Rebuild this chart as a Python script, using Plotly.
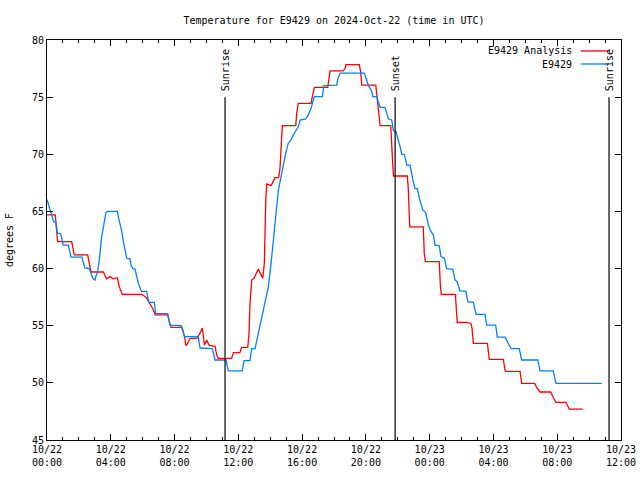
import pandas as pd
import plotly.graph_objects as go

BASE = pd.Timestamp("2024-10-22 00:00")

# E9429 Analysis (red) - hours since 2024-10-22 00:00 UTC, degrees F
analysis_hours = [0.00, 0.52, 0.56, 0.67, 1.55, 1.71, 2.55, 2.63, 2.70, 2.76, 3.53, 3.74, 3.95, 4.14, 4.41,
                  4.53, 4.72, 5.94, 6.21, 6.29, 6.38, 6.52, 6.67, 6.79, 7.57, 7.65, 7.78, 8.45, 8.55, 8.64,
                  8.70, 8.76, 8.97, 9.39, 9.60, 9.74, 9.80, 9.87, 10.02, 10.16, 10.54, 10.64, 10.74, 11.58,
                  11.69, 12.10, 12.21, 12.59, 12.67, 12.73, 12.84, 12.98, 13.25, 13.53, 13.63, 13.67, 13.72,
                  13.78, 14.05, 14.30, 14.53, 14.61, 14.68, 14.76, 15.60, 15.66, 15.76, 16.56, 16.64, 16.77,
                  17.61, 17.69, 17.75, 18.58, 18.69, 18.75, 19.59, 19.67, 19.74, 20.62, 20.68, 20.78, 20.89,
                  21.56, 21.62, 21.68, 21.73, 22.60, 22.66, 22.69, 22.75, 23.60, 23.66, 23.73, 24.60, 24.67,
                  24.73, 25.61, 25.67, 25.73, 26.32, 26.59, 26.66, 26.74, 27.62, 27.68, 27.74, 28.62, 28.68,
                  28.74, 29.67, 29.71, 29.77, 30.59, 30.71, 30.92, 31.59, 31.76, 31.92, 32.55, 32.66, 32.76,
                  33.60]
analysis_temp = [64.7, 64.7, 64.0, 62.35, 62.35, 61.2, 61.2, 60.5, 60.0, 59.7, 59.7, 59.1, 59.3, 59.1, 59.2,
                 58.4, 57.75, 57.75, 57.5, 57.3, 57.0, 56.75, 56.4, 55.95, 55.95, 55.5, 54.85, 54.85, 54.4, 54.0,
                 53.3, 53.3, 53.9, 53.9, 54.35, 54.8, 54.2, 53.3, 53.75, 53.3, 53.2, 52.45, 52.15, 52.15,
                 52.65, 52.65, 53.1, 53.1, 54.35, 56.95, 59.0, 59.15, 59.95, 59.15, 60.45, 63.4, 66.0,
                 67.4, 67.25, 67.95, 67.95, 68.75, 70.1, 72.5, 72.5, 73.6, 74.45, 74.45, 75.05, 75.85,
                 75.85, 76.65, 77.3, 77.3, 77.5, 77.85, 77.85, 77.2, 76.05, 76.05, 75.35, 74.15, 72.5,
                 72.5, 71.3, 69.2, 68.1, 68.1, 66.95, 64.85, 63.65, 63.65, 61.35, 60.6, 60.6, 58.55,
                 57.75, 57.75, 56.0, 55.3, 55.3, 55.2, 54.75, 53.45, 53.45, 52.45, 52.05, 52.05, 51.4,
                 51.0, 51.0, 50.4, 49.95, 49.95, 49.6, 49.2, 49.2, 48.7, 48.3, 48.3, 47.95, 47.7,
                 47.7]

# E9429 observations (blue)
obs_hours = [0.00, 0.08, 0.19, 0.33, 0.40, 0.56, 0.65, 0.86, 0.92, 1.02, 1.34, 1.44, 1.51, 2.18, 2.28, 2.38,
             2.65, 2.74, 2.87, 3.01, 3.05, 3.18, 3.28, 3.43, 3.57, 3.70, 3.78, 4.41, 4.47, 4.58, 4.69, 4.79,
             4.89, 5.00, 5.21, 5.27, 5.38, 5.52, 5.63, 5.73, 5.88, 5.94, 6.25, 6.29, 6.38, 6.73, 6.82, 7.57,
             7.65, 7.71, 8.42, 8.51, 8.61, 9.49, 9.55, 9.60, 10.37, 10.43, 10.54, 11.23, 11.29, 11.37,
             12.25, 12.36, 12.73, 12.84, 13.05, 13.19, 13.36, 13.57, 13.74, 13.88, 14.03, 14.19, 14.36,
             14.51, 14.68, 14.82, 14.97, 15.13, 15.30, 15.45, 15.62, 15.76, 15.87, 16.23, 16.39, 16.56,
             16.70, 16.77, 17.27, 17.37, 18.17, 18.23, 18.38, 19.90, 20.01, 20.15, 20.37, 20.43, 20.68,
             20.78, 20.89, 21.20, 21.31, 21.41, 21.62, 21.72, 21.89, 22.03, 22.14, 22.25, 22.41, 22.52,
             22.56, 22.77, 22.87, 22.97, 23.08, 23.23, 23.33, 23.44, 23.56, 23.75, 23.82, 23.92, 24.07,
             24.23, 24.34, 24.60, 24.71, 24.92, 25.07, 25.45, 25.59, 25.73, 25.90, 26.28, 26.39, 26.74,
             26.91, 27.47, 27.58, 28.14, 28.24, 28.73, 28.93, 29.10, 29.62, 29.77, 30.78, 30.92, 31.75,
             31.92, 34.79]
obs_temp = [66.05, 65.55, 65.15, 64.55, 64.1, 64.05, 63.1, 63.05, 62.65, 62.05, 62.05, 61.5, 61.0, 61.0, 60.6,
            60.05, 60.0, 59.65, 59.15, 59.0, 59.25, 59.75, 60.75, 62.8, 64.1, 64.9, 65.0, 65.0, 64.55, 63.95,
            63.25, 62.35, 61.65, 60.9, 60.85, 60.3, 60.0, 59.95, 59.3, 58.7, 58.15, 58.0, 58.0, 57.55, 57.05,
            57.05, 56.05, 56.05, 55.5, 55.05, 55.0, 54.65, 54.05, 54.05, 53.45, 53.05, 53.0, 52.6, 52.0,
            52.0, 51.4, 51.05, 51.05, 51.95, 51.95, 53.0, 53.0, 53.9, 55.05, 56.35, 57.25, 58.4, 60.15,
            62.5, 64.8, 66.85, 68.05, 69.2, 70.1, 70.95, 71.25, 71.7, 72.05, 72.4, 73.0, 73.1, 73.45,
            74.0, 74.75, 75.05, 75.05, 76.0, 76.05, 76.55, 77.1, 77.1, 76.65, 76.05, 75.5, 75.05, 75.05,
            74.6, 74.1, 74.1, 73.6, 73.1, 73.0, 72.1, 71.95, 71.3, 70.7, 70.0, 70.0, 69.35, 69.05, 69.05,
            68.2, 67.6, 67.0, 67.0, 66.3, 65.7, 65.15, 64.9, 64.4, 63.8, 63.25, 62.95, 62.05, 62.0, 61.05,
            60.9, 60.0, 59.95, 59.0, 58.85, 58.05, 58.0, 57.1, 57.05, 56.0, 56.0, 55.05, 55.05, 54.0,
            54.0, 53.45, 53.0, 53.0, 52.0, 52.0, 51.05, 51.05, 49.95, 49.95]

sun_times = ["2024-10-22 11:10", "2024-10-22 21:50", "2024-10-23 11:15"]
sun_labels = ["Sunrise", "Sunset", "Sunrise"]
sun_top = 75

tick_hours = [0, 4, 8, 12, 16, 20, 24, 28, 32, 36]
tick_labels = ["10/22<br>00:00", "10/22<br>04:00", "10/22<br>08:00", "10/22<br>12:00", "10/22<br>16:00",
               "10/22<br>20:00", "10/23<br>00:00", "10/23<br>04:00", "10/23<br>08:00", "10/23<br>12:00"]

series_names = ["E9429 Analysis", "E9429"]
series_colors = ["#ff0000", "#0080ff"]

FONT = "DejaVu Sans Mono"

def to_time(hours):
    return BASE + pd.to_timedelta(pd.Series(hours), unit="h")

fig = go.Figure()
fig.add_trace(go.Scatter(x=to_time(analysis_hours), y=analysis_temp, mode="lines",
                         line=dict(color=series_colors[0], width=1.3), name=series_names[0]))
fig.add_trace(go.Scatter(x=to_time(obs_hours), y=obs_temp, mode="lines",
                         line=dict(color=series_colors[1], width=1.3), name=series_names[1]))

for t, lab in zip(sun_times, sun_labels):
    fig.add_shape(type="line", xref="x", yref="y", x0=t, x1=t, y0=45, y1=sun_top,
                  line=dict(color="black", width=1.2), layer="above")
    fig.add_annotation(x=t, y=sun_top, xref="x", yref="y", text=lab, textangle=-90,
                       showarrow=False, yanchor="bottom", xanchor="center", yshift=4,
                       font=dict(family=FONT, size=10, color="black"))

# legend (gnuplot style: text then sample line)
leg_y = [0.9725, 0.94]
for name, col, yy in zip(series_names, series_colors, leg_y):
    fig.add_annotation(x=0.918, y=yy, xref="paper", yref="paper", text=name, showarrow=False,
                       xanchor="right", yanchor="middle", font=dict(family=FONT, size=10, color="black"))
    fig.add_shape(type="line", xref="paper", yref="paper", x0=0.930, x1=0.979, y0=yy, y1=yy,
                  line=dict(color=col, width=1.3))

tick_vals = list(to_time(tick_hours))

fig.update_layout(
    width=640, height=480,
    margin=dict(l=47, r=19, t=40, b=40),
    paper_bgcolor="white", plot_bgcolor="white",
    showlegend=False,
    font=dict(family=FONT, size=10, color="black"),
    title=dict(text="Temperature for E9429 on 2024-Oct-22 (time in UTC)", x=0.5, xref="paper",
               y=0.958, yref="container", xanchor="center", yanchor="middle",
               font=dict(family=FONT, size=10, color="black")),
)
fig.update_xaxes(
    type="date", range=[to_time([0])[0], to_time([36])[0]],
    tickvals=tick_vals, ticktext=tick_labels,
    ticks="inside", ticklen=6, tickcolor="black", tickwidth=1,
    minor=dict(dtick=3600000, ticks="inside", ticklen=3, tickcolor="black", tickwidth=1, showgrid=False),
    showline=True, linecolor="black", linewidth=1, mirror="allticks",
    showgrid=False, zeroline=False, automargin=False,
    tickfont=dict(family=FONT, size=10, color="black"),
)
fig.update_yaxes(
    range=[45, 80], dtick=5, tick0=45,
    ticks="inside", ticklen=6, tickcolor="black", tickwidth=1,
    showline=True, linecolor="black", linewidth=1, mirror="allticks",
    showgrid=False, zeroline=False, automargin=False,
    title=dict(text="degrees F", font=dict(family=FONT, size=10, color="black"), standoff=16),
    tickfont=dict(family=FONT, size=10, color="black"),
)

fig.write_html("out.html", config={"displayModeBar": False},
               post_script="document.body.style.margin='0';document.body.style.overflow='hidden';")
